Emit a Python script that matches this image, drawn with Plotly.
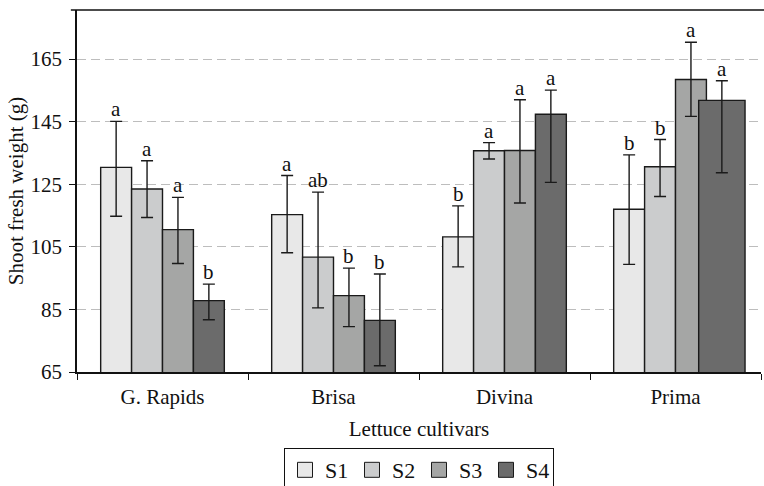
import plotly.graph_objects as go

cultivars = ["G. Rapids", "Brisa", "Divina", "Prima"]
series = ["S1", "S2", "S3", "S4"]
colors = ["#e8e8e8", "#cbcccd", "#a5a6a5", "#6b6b6b"]

s1 = [130.4, 115.3, 108.2, 117.0]
s2 = [123.5, 101.7, 135.7, 130.6]
s3 = [110.5, 89.4, 135.8, 158.5]
s4 = [87.8, 81.5, 147.4, 151.8]

s1_up = [14.7, 12.5, 9.9, 17.4]
s1_dn = [15.6, 12.2, 9.6, 17.6]
s2_up = [9.0, 20.8, 2.6, 8.7]
s2_dn = [9.1, 16.2, 2.6, 9.5]
s3_up = [10.3, 8.8, 16.2, 11.9]
s3_dn = [10.8, 9.9, 16.8, 11.8]
s4_up = [5.3, 14.8, 7.7, 6.3]
s4_dn = [6.1, 14.5, 21.8, 23.1]

s1_letters = ["a", "a", "b", "b"]
s2_letters = ["a", "ab", "a", "b"]
s3_letters = ["a", "b", "a", "a"]
s4_letters = ["b", "b", "a", "a"]

y_ticks = [65, 85, 105, 125, 145, 165]

values = [s1, s2, s3, s4]
ups = [s1_up, s2_up, s3_up, s4_up]
dns = [s1_dn, s2_dn, s3_dn, s4_dn]
letters = [s1_letters, s2_letters, s3_letters, s4_letters]

bargap = 0.277
bw = (1 - bargap) / 4
x_idx = list(range(len(cultivars)))

FONT = "Liberation Serif"
INK = "#111111"

fig = go.Figure()
for j, name in enumerate(series):
    widths = [bw] * len(cultivars)
    if name == "S4":
        widths[3] = bw * 1.5
    fig.add_trace(go.Bar(
        name=name, x=x_idx, y=values[j], width=widths, showlegend=False,
        marker=dict(color=colors[j], line=dict(color="#1a1a1a", width=1.4)),
        error_y=dict(type="data", symmetric=False, array=ups[j], arrayminus=dns[j],
                     color="#1a1a1a", thickness=1.4, width=6),
    ))
    for i in x_idx:
        fig.add_annotation(
            x=i + (j - 1.5) * bw, y=values[j][i] + ups[j][i],
            text=letters[j][i], showarrow=False, yanchor="bottom", yshift=-2,
            font=dict(family=FONT, size=21, color=INK),
        )

# legend entries with larger square swatches
for j, name in enumerate(series):
    fig.add_trace(go.Scatter(
        name=name, x=[None], y=[None], mode="markers",
        marker=dict(symbol="square", size=15, color=colors[j],
                    line=dict(color="#1a1a1a", width=1)),
        showlegend=True,
    ))

fig.add_shape(type="line", xref="paper", yref="paper", x0=-0.009, x1=1.006, y0=1, y1=1,
              line=dict(color=INK, width=1.5))

fig.update_layout(
    width=764, height=486,
    margin=dict(l=77, r=3, t=10, b=114, autoexpand=False),
    paper_bgcolor="white", plot_bgcolor="white",
    barmode="group", bargap=bargap, bargroupgap=0,
    font=dict(family=FONT, size=21, color=INK),
    showlegend=True,
    legend=dict(orientation="h", x=0.5, xanchor="center", y=-0.21, yanchor="top",
                bordercolor=INK, borderwidth=1, font=dict(size=22),
                traceorder="normal", itemwidth=30, tracegroupgap=0,
                entrywidth=22, entrywidthmode="pixels"),
    xaxis=dict(
        range=[-0.5, 3.5], tickmode="array", tickvals=x_idx, ticktext=cultivars,
        ticks="", showline=True, linecolor=INK, linewidth=1.5, showgrid=False,
        zeroline=False, tickfont=dict(size=21), automargin=False, ticklabelstandoff=5,
        minor=dict(tickmode="array", tickvals=[-0.5, 0.5, 1.5, 2.5, 3.5], ticks="outside",
                   ticklen=6, tickwidth=1.2, tickcolor=INK, showgrid=False),
        title=dict(text="Lettuce cultivars", standoff=13, font=dict(size=21)),
    ),
    yaxis=dict(
        range=[65, 180.7], tickmode="array", tickvals=y_ticks,
        ticks="outside", ticklen=6, tickwidth=1.2, tickcolor=INK,
        showline=True, linecolor=INK, linewidth=1.5, ticklabelstandoff=3,
        showgrid=True, gridcolor="#bdbdbd", griddash="9px,5px", gridwidth=1.2,
        zeroline=False, tickfont=dict(size=21), automargin=False,
        title=dict(text="Shoot fresh weight (g)", standoff=1, font=dict(size=21)),
    ),
)

fig.write_html("out.html", config={"displayModeBar": False},
               post_script="document.body.style.margin='0';")
